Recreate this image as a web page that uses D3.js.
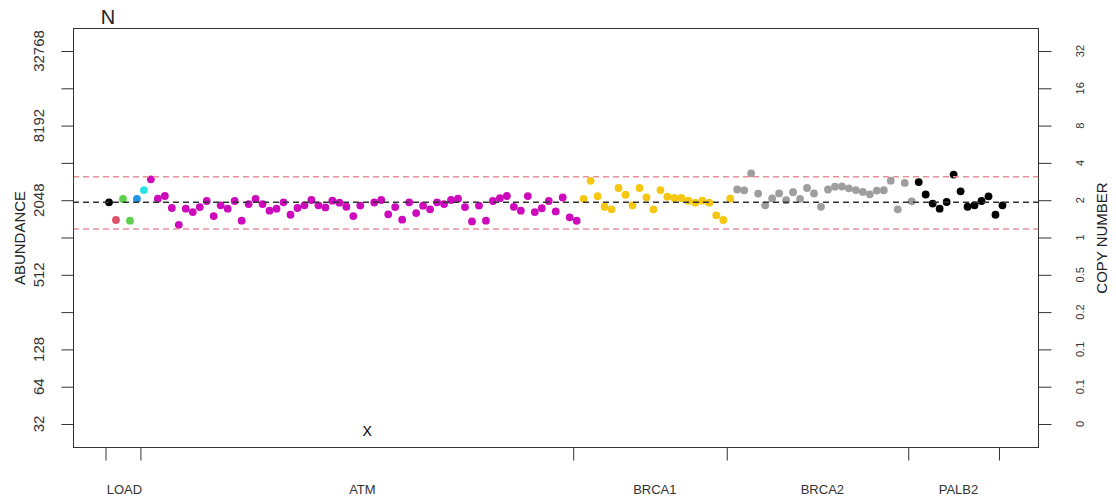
<!DOCTYPE html>
<html>
<head>
<meta charset="utf-8">
<script src="https://cdn.jsdelivr.net/npm/d3@7"></script>
<style>
    body { margin: 0; background: #ffffff; }
    #space { width: 1116px; height: 499px; }
</style>
</head>
<body>
<div id="space"></div>
<script>
// groups (genes) along the x axis
var genes = ["LOAD", "ATM", "BRCA1", "BRCA2", "PALB2"];
var geneColors = ["#000000", "#CD0BBC", "#F5C710", "#9E9E9E", "#000000"];

// abundance per probe (null = failed probe, drawn as X)
var loadValues = [1970, 1417, 2094, 1400, 2094, 2474];
var loadColors = ["#000000", "#DF536B", "#61D04F", "#61D04F", "#2297E6", "#28E2E5"];
var atmValues = [3019, 2106, 2214, 1771, 1297, 1749, 1644, 1804, 2018, 1525,
                 1861, 1749, 2018, 1400, 1907, 2094, 1907, 1685, 1749, 1970,
                 1563, 1771, 1861, 2055, 1861, 1792, 2029, 1955, 1814, 1525,
                 1855, null, 1962, 2055, 1575, 1804, 1425, 1970, 1612, 1849,
                 1729, 1970, 1907, 2055, 2106, 1804, 1380, 1855, 1400, 2018,
                 2126, 2214, 1810, 1685, 2212, 1644, 1763, 2018, 1661, 2153,
                 1489, 1398];
var brca1Values = [2102, 2937, 2205, 1814, 1729, 2570, 2266, 1861, 2570, 2162,
                   1729, 2474, 2185, 2133, 2133, 2029, 1955, 2029, 1955, 1545,
                   1417, 2106];
var brca2Values = [2498, 2460, 3375, 2318, 1861, 2118, 2322, 2048, 2374, 2102,
                   2570, 2322, 1810, 2498, 2633, 2643, 2552, 2474, 2387, 2284,
                   2451, 2465, 2943, 1729, 2822, 2007];
var palb2Values = [2867, 2276, 1925, 1749, 1981, 3300, 2417, 1814, 1865, 2018,
                   2200, 1563, 1861];

// x axis: tick positions (probe index units) and label positions
var geneTicks = [-0.5, 4.5, 66.5, 88.5, 114.5, 127.5];
var geneLabelPos = [2.2, 36.3, 78.2, 102.2, 121.7];

// y axis ticks
var abundanceTicks = [32, 64, 128, 256, 512, 1024, 2048, 4096, 8192, 16384, 32768];
var abundanceLabels = ["32", "64", "128", "", "512", "", "2048", "", "8192", "", "32768"];
var copyLabels = ["0", "0.1", "0.1", "0.2", "0.5", "1", "2", "4", "8", "16", "32"];

// reference lines
var medianLine = 1970;
var limitLines = [3169, 1198];
var failedValue = 28;

var svg, xScale, yScale;
var W = 1116, H = 499;
var plotLeft = 73, plotRight = 1038, plotTop = 28, plotBottom = 447;
var FONT = "'Liberation Sans', Arial, Helvetica, sans-serif";

init();

function init() {
    svg = d3.select("#space").append("svg")
        .attr("xmlns", "http://www.w3.org/2000/svg")
        .attr("width", W)
        .attr("height", H);

    xScale = d3.scaleLinear().domain([-5.158, 133.09]).range([plotLeft, plotRight]);
    yScale = d3.scaleLog().base(2)
        .domain([Math.pow(2, 4.383), Math.pow(2, 15.617)])
        .range([plotBottom, plotTop]);

    svg.append("g").attr("id", "dot");
    svg.append("g").attr("id", "path");
    svg.append("g").attr("id", "axis");
    svg.append("g").attr("id", "text");

    drawPoints(buildProbes());
    drawLines();
    drawAxes();
    drawTitles();
}

function buildProbes() {
    var probes = [];
    var groups = [loadValues, atmValues, brca1Values, brca2Values, palb2Values];
    var idx = 0;
    groups.forEach(function (vals, g) {
        vals.forEach(function (v, k) {
            var col = g == 0 ? loadColors[k] : geneColors[g];
            probes.push({ i: idx, v: v, color: col });
            idx++;
        });
    });
    return probes;
}

function drawPoints(probes) {
    svg.select("#dot").selectAll("circle")
        .data(probes.filter(function (d) { return d.v != null; }))
        .enter().append("circle")
        .attr("cx", function (d) { return xScale(d.i); })
        .attr("cy", function (d) { return yScale(d.v); })
        .attr("r", 3.9)
        .attr("fill", function (d) { return d.color; });

    //Failed probes
    svg.select("#dot").selectAll("text")
        .data(probes.filter(function (d) { return d.v == null; }))
        .enter().append("text")
        .attr("x", function (d) { return xScale(d.i); })
        .attr("y", yScale(failedValue) + 5)
        .attr("text-anchor", "middle")
        .attr("font-family", FONT)
        .attr("font-size", "14px")
        .attr("fill", "#000")
        .text("X");
}

function drawLines() {
    var g = svg.select("#path");
    limitLines.forEach(function (v) {
        g.append("line")
            .attr("x1", plotLeft).attr("x2", plotRight)
            .attr("y1", yScale(v)).attr("y2", yScale(v))
            .attr("stroke", "#E8919C")
            .attr("stroke-width", 1.5)
            .attr("stroke-dasharray", "6,4");
    });
    g.append("line")
        .attr("x1", plotLeft).attr("x2", plotRight)
        .attr("y1", yScale(medianLine)).attr("y2", yScale(medianLine))
        .attr("stroke", "#333")
        .attr("stroke-width", 1.5)
        .attr("stroke-dasharray", "6,4");
}

function drawAxes() {
    var g = svg.select("#axis");

    //Box
    g.append("rect")
        .attr("x", plotLeft + 0.5).attr("y", plotTop + 0.5)
        .attr("width", plotRight - plotLeft).attr("height", plotBottom - plotTop)
        .attr("fill", "none")
        .attr("stroke", "#333")
        .attr("stroke-width", 1);

    //Left axis
    var left = g.append("g").attr("transform", "translate(" + (plotLeft + 0.5) + ",0)")
        .call(d3.axisLeft(yScale).tickValues(abundanceTicks).tickSize(12).tickFormat(""));
    left.select(".domain").remove();
    left.selectAll(".tick line").attr("stroke", "#333");

    //Right axis
    var right = g.append("g").attr("transform", "translate(" + (plotRight + 0.5) + ",0)")
        .call(d3.axisRight(yScale).tickValues(abundanceTicks).tickSize(13).tickFormat(""));
    right.select(".domain").remove();
    right.selectAll(".tick line").attr("stroke", "#333");

    //Bottom axis
    var bottom = g.append("g").attr("transform", "translate(0," + (plotBottom + 0.5) + ")")
        .call(d3.axisBottom(xScale).tickValues(geneTicks).tickSize(13).tickFormat(""));
    bottom.select(".domain").remove();
    bottom.selectAll(".tick line").attr("stroke", "#333");

    var t = svg.select("#text");
    abundanceTicks.forEach(function (v, k) {
        if (abundanceLabels[k] != "") {
            t.append("text")
                .attr("transform", "translate(44," + yScale(v) + ") rotate(-90)")
                .attr("text-anchor", "middle")
                .attr("font-family", FONT)
                .attr("font-size", "15px")
                .attr("fill", "#333")
                .text(abundanceLabels[k]);
        }
        t.append("text")
            .attr("transform", "translate(1084," + yScale(v) + ") rotate(-90)")
            .attr("text-anchor", "middle")
            .attr("font-family", FONT)
            .attr("font-size", "11px")
            .attr("fill", "#333")
            .text(copyLabels[k]);
    });

    genes.forEach(function (gene, k) {
        t.append("text")
            .attr("x", xScale(geneLabelPos[k]))
            .attr("y", 494)
            .attr("text-anchor", "middle")
            .attr("font-family", FONT)
            .attr("font-size", "13px")
            .attr("fill", "#333")
            .text(gene);
    });
}

function drawTitles() {
    var t = svg.select("#text");
    t.append("text")
        .attr("x", 108).attr("y", 24)
        .attr("text-anchor", "middle")
        .attr("font-family", FONT)
        .attr("font-size", "20px")
        .attr("fill", "#222")
        .text("N");

    t.append("text")
        .attr("transform", "translate(25,238) rotate(-90)")
        .attr("text-anchor", "middle")
        .attr("font-family", FONT)
        .attr("font-size", "15px")
        .attr("fill", "#222")
        .text("ABUNDANCE");

    t.append("text")
        .attr("transform", "translate(1107,238) rotate(-90)")
        .attr("text-anchor", "middle")
        .attr("font-family", FONT)
        .attr("font-size", "15px")
        .attr("fill", "#222")
        .text("COPY NUMBER");
}
</script>
</body>
</html>
